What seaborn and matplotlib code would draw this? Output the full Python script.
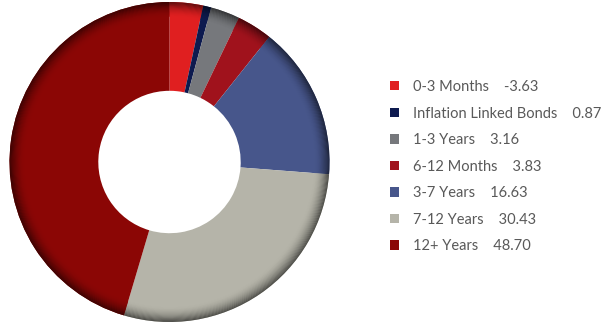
import numpy as np
import matplotlib
matplotlib.use("Agg")
import matplotlib.pyplot as plt
import matplotlib.colors as mcolors
import seaborn as sns

categories = ["0-3 Months", "Inflation Linked Bonds", "1-3 Years", "6-12 Months",
              "3-7 Years", "7-12 Years", "12+ Years"]
values = [-3.63, 0.87, 3.16, 3.83, 16.63, 30.43, 48.70]
value_labels = ["-3.63", "0.87", "3.16", "3.83", "16.63", "30.43", "48.70"]
colors = ["#E01F20", "#0D1A4F", "#76787C", "#A0121C", "#47568B", "#B5B4A9", "#8B0605"]

sns.set_style("white")
plt.rcParams['font.family'] = ['Lato', 'DejaVu Sans']

fig = plt.figure(figsize=(6.05, 3.25), dpi=100)
cx, cy, R = 169.5, 162, 160
ax = fig.add_axes([(cx - R) / 605, (325 - cy - R) / 325, 2 * R / 605, 2 * R / 325])

sizes = np.abs(values)
inner = 0.445
wedges, _ = ax.pie(sizes, colors=colors, startangle=90, counterclock=False,
                   radius=1.0, wedgeprops=dict(width=1.0 - inner, linewidth=0, antialiased=True))

# outer rim shading
rim = 0.09
n = 16
for i in range(n):
    r_out = 1.0 - rim + rim * (i + 1) / n
    t = (i + 1) / n
    f = 1 - 0.55 * t ** 1.8
    cols = []
    for c in colors:
        rgb = np.array(mcolors.to_rgb(c))
        cols.append(tuple(rgb * f))
    ax.pie(sizes, colors=cols, startangle=90, counterclock=False, radius=r_out,
           wedgeprops=dict(width=rim / n + 0.002, linewidth=0))

ax.set_xlim(-1, 1)
ax.set_ylim(-1, 1)
ax.set_aspect("equal")
ax.axis("off")

labels = [f"{c}    {v}" for c, v in zip(categories, value_labels)]
leg = fig.legend(wedges, labels, loc="upper left",
                 bbox_to_anchor=(390 / 605, 1 - 80 / 325),
                 frameon=False, fontsize=10.5, handlelength=0.6, handleheight=0.6,
                 handletextpad=1.0, labelspacing=0.86, borderpad=0, borderaxespad=0)
for t in leg.get_texts():
    t.set_color("#595959")

fig.savefig("out.png", dpi=100)
